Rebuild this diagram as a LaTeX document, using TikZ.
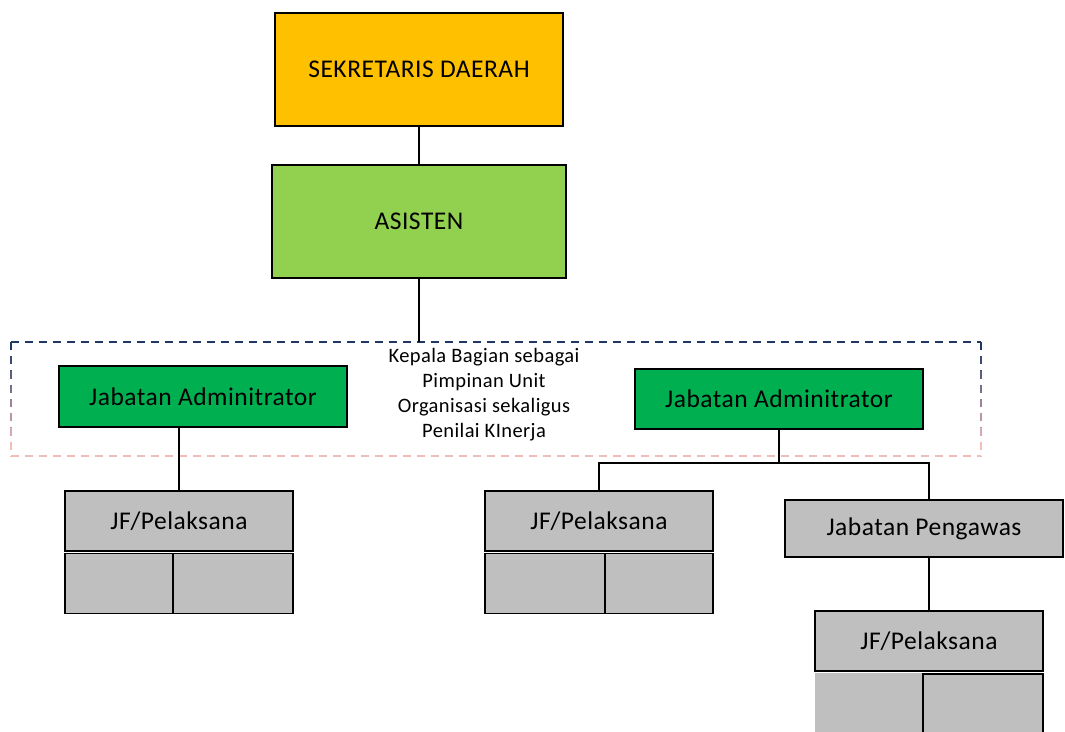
\documentclass[tikz,border=0pt]{standalone}
\usepackage{fontspec}
\setmainfont{Carlito}[LetterSpace=2]
\definecolor{sekda}{HTML}{FFC000}
\definecolor{asisten}{HTML}{92D050}
\definecolor{admin}{HTML}{00B050}
\definecolor{staff}{HTML}{BFBFBF}
\definecolor{frametop}{HTML}{1F3864}
\definecolor{framebot}{HTML}{F2BDB8}
\tikzset{
  unitbox/.style={draw=black, line width=1.5pt, inner sep=0pt, font=\fontsize{25.5}{30}\selectfont},
  cellbox/.style={draw=black, line width=1.5pt, fill=staff, inner sep=0pt},
  link/.style={draw=black, line width=1.5pt},
  frameline/.style={line width=1.3pt, dash pattern=on 8pt off 6pt},
}
\begin{document}
\begin{tikzpicture}[x=1pt,y=-1pt]
\useasboundingbox (0,0) rectangle (1065,731);
\clip (0,0) rectangle (1065,731);

% top of the hierarchy
\node[unitbox, fill=sekda, minimum width=288pt, minimum height=113pt] (sekda) at (419,69.5) {SEKRETARIS DAERAH};
\node[unitbox, fill=asisten, minimum width=294pt, minimum height=113pt] (asisten) at (419,221.5) {ASISTEN};
\coordinate (frametopmid) at (419,342);

% dashed frame around the administrator level, navy fading to pink
\draw[frameline, frametop] (11,342) -- (981,342);
\draw[frameline, framebot] (11,456) -- (981,456);
\foreach \i in {0,...,7} {
  \pgfmathsetmacro{\pct}{100-\i*100/7}
  \draw[frameline, color=frametop!\pct!framebot] (11,342+\i*14.25) -- (11,342+\i*14.25+14.25);
  \draw[frameline, color=frametop!\pct!framebot] (981,342+\i*14.25) -- (981,342+\i*14.25+14.25);
}
\node[align=center, font=\fontsize{20.5}{25}\selectfont, inner sep=0pt] (note) at (484,395)
  {Kepala Bagian sebagai\\Pimpinan Unit\\Organisasi sekaligus\\Penilai KInerja};

% administrators
\node[unitbox, fill=admin, minimum width=288pt, minimum height=61pt] (adminL) at (203,396.5) {Jabatan Adminitrator};
\node[unitbox, fill=admin, minimum width=288pt, minimum height=60pt] (adminR) at (779,399) {Jabatan Adminitrator};

% left branch
\node[unitbox, fill=staff, minimum width=228pt, minimum height=60pt] (jfL) at (179,521) {JF/Pelaksana};
\node[cellbox, minimum width=108pt, minimum height=60pt] (jfLa) at (119,583.5) {};
\node[cellbox, minimum width=120pt, minimum height=60pt] (jfLb) at (233,583.5) {};

% middle branch
\node[unitbox, fill=staff, minimum width=228pt, minimum height=60pt] (jfM) at (599,521) {JF/Pelaksana};
\node[cellbox, minimum width=120pt, minimum height=60pt] (jfMa) at (545,583.5) {};
\node[cellbox, minimum width=108pt, minimum height=60pt] (jfMb) at (659,583.5) {};

% supervisor branch
\node[unitbox, fill=staff, minimum width=278pt, minimum height=57pt] (pengawas) at (924,528.5) {Jabatan Pengawas};
\node[unitbox, fill=staff, minimum width=228pt, minimum height=60pt] (jfR) at (929,641) {JF/Pelaksana};
\node[fill=staff, inner sep=0pt, minimum width=228pt, minimum height=70pt] (jfRa) at (929,708) {};
\node[cellbox, minimum width=120pt, minimum height=70pt] (jfRb) at (983,709) {};

% connectors
\draw[link] (sekda.south) -- (asisten.north);
\draw[link] (asisten.south) -- (frametopmid);
\draw[link] (adminL.south -| jfL.north) -- (jfL.north);
\coordinate (busR) at (779,463);
\draw[link] (adminR.south) -- (busR);
\draw[link] (jfM.north) |- (busR) -| (pengawas.north -| jfR.north);
\draw[link] (pengawas.south -| jfR.north) -- (jfR.north);
\end{tikzpicture}
\end{document}
